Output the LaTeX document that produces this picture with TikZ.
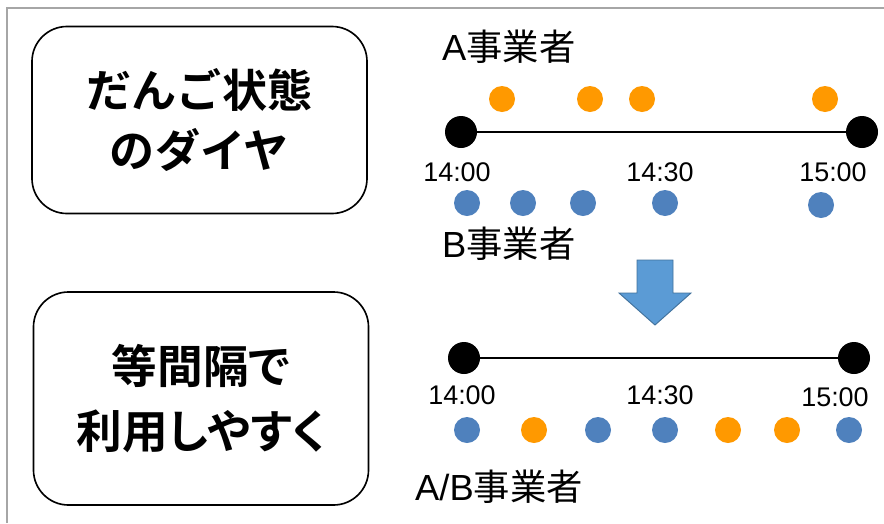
\documentclass[tikz,border=0pt]{standalone}
\usepackage{fontspec}
\setmainfont{Liberation Sans}
\newfontfamily\jp{Noto Sans CJK JP}[BoldFont={Noto Sans CJK JP Bold}]
\newfontfamily\jpprop{Noto Sans CJK JP}[BoldFont={Noto Sans CJK JP Bold}, RawFeature=+palt]
\usetikzlibrary{positioning}
\definecolor{dotorange}{HTML}{FF9900}
\definecolor{dotblue}{HTML}{4F81BD}
\definecolor{arrowfill}{HTML}{5B9BD5}
\definecolor{arrowline}{HTML}{41719C}
\definecolor{framegray}{HTML}{A6A6A6}
\tikzset{
	phasebox/.style={draw, line width=1.4pt, rounded corners=1.05cm, minimum width=10.05cm, align=center},
	adot/.style={circle, fill=dotorange, minimum size=0.78cm, inner sep=0pt},
	bdot/.style={circle, fill=dotblue, minimum size=0.78cm, inner sep=0pt},
	enddot/.style={circle, fill=black, minimum size=0.96cm, inner sep=0pt},
	timelabel/.style={font=\fontsize{23}{23}\selectfont, inner sep=0pt},
	operlabel/.style={font=\fontsize{31}{31}\selectfont, inner sep=0pt, anchor=west}
}
\begin{document}
\begin{tikzpicture}[x=0.03cm, y=-0.03cm]
			\useasboundingbox (0,0) rectangle (884,523);
			% Frame
			\draw[framegray, line width=1.5pt] (7,523) -- (7,8) -- (884,8);
			
			% Left boxes
			\node[phasebox, minimum height=5.61cm, font=\jp\bfseries\fontsize{38.5}{52}\selectfont] (before) at (199.5,120) {だんご状態\\のダイヤ};
			\node[phasebox, minimum height=6.39cm, font=\jpprop\bfseries\fontsize{39}{55}\selectfont] (after) at (201,398.5) {等間隔で\\利用しやすく};
			
			% Current timetable
			\node[operlabel] (opA) at (442,47) {A{\jp 事業者}};
			\node[adot] (a1) at (502,99) {};
			\node[adot] (a2) at (590,99) {};
			\node[adot] (a3) at (642,99) {};
			\node[adot] (a4) at (825,99) {};
			\node[enddot] (start1) at (461,132) {};
			\node[enddot] (end1) at (862,132) {};
			\draw[line width=1.2pt] (start1) -- (end1);
			\node[timelabel] (t1a) at (457,172) {14:00};
			\node[timelabel] (t1b) at (660,172) {14:30};
			\node[timelabel] (t1c) at (833,172) {15:00};
			\node[bdot] (b1) at (467,203) {};
			\node[bdot] (b2) at (523,203) {};
			\node[bdot] (b3) at (583,203) {};
			\node[bdot] (b4) at (665,203) {};
			\node[bdot] (b5) at (821,205) {};
			\node[operlabel] (opB) at (442,244) {B{\jp 事業者}};
			
			% Down arrow
			\draw[arrowline, fill=arrowfill, line width=0.8pt] (637,260) -- (673,260) -- (673,293) -- (691,293) -- (655,325) -- (619,293) -- (637,293) -- cycle;
			
			% Improved timetable
			\node[enddot] (start2) at (464,358) {};
			\node[enddot] (end2) at (854,358) {};
			\draw[line width=1.2pt] (start2) -- (end2);
			\node[timelabel] (t2a) at (462,395) {14:00};
			\node[timelabel] (t2b) at (660,395) {14:30};
			\node[timelabel] (t2c) at (835,397) {15:00};
			\node[bdot] (c1) at (467,430) {};
			\node[adot] (c2) at (534,430) {};
			\node[bdot] (c3) at (598,430) {};
			\node[bdot] (c4) at (665,430) {};
			\node[adot] (c5) at (728,430) {};
			\node[adot] (c6) at (787,430) {};
			\node[bdot] (c7) at (849,430) {};
			\node[operlabel] (opAB) at (415,487) {A/B{\jp 事業者}};
		\end{tikzpicture}
\end{document}
